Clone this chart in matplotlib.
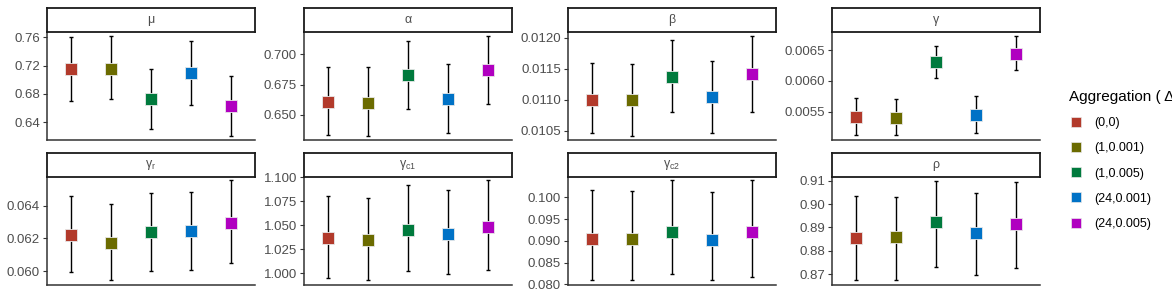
import numpy as np
import matplotlib
matplotlib.use("Agg")
import matplotlib.pyplot as plt
from matplotlib.lines import Line2D
from matplotlib.ticker import FormatStrFormatter

plt.rcParams['font.family'] = ['Liberation Sans', 'DejaVu Sans']

# =========================================================
# Data
# =========================================================
groups = ["(0,0)", "(1,0.001)", "(1,0.005)", "(24,0.001)", "(24,0.005)"]
colors = ["#B23A2B", "#6B6B00", "#007A3D", "#0072C6", "#B000C0"]

params = ["μ", "α", "β", "γ",
          r"γ$_\mathregular{r}$", r"γ$_\mathregular{c1}$", r"γ$_\mathregular{c2}$", "ρ"]

mu_est = [0.715, 0.716, 0.673, 0.710, 0.663]
mu_lo = [0.670, 0.673, 0.631, 0.664, 0.621]
mu_hi = [0.761, 0.762, 0.716, 0.755, 0.705]

alpha_est = [0.6605, 0.660, 0.6825, 0.6630, 0.6866]
alpha_lo = [0.6336, 0.633, 0.6547, 0.6355, 0.659]
alpha_hi = [0.689, 0.6896, 0.7104, 0.692, 0.715]

beta_est = [0.01100, 0.01100, 0.011368, 0.011052, 0.011412]
beta_lo = [0.010463, 0.010425, 0.010801, 0.010473, 0.010811]
beta_hi = [0.011598, 0.011577, 0.011968, 0.011630, 0.012027]

gamma_est = [0.005419, 0.005403, 0.006300, 0.005451, 0.006435]
gamma_lo = [0.005117, 0.005117, 0.006041, 0.005155, 0.006168]
gamma_hi = [0.005727, 0.005706, 0.006570, 0.005754, 0.006730]

gr_est = [0.06221, 0.06172, 0.06237, 0.06245, 0.06296]
gr_lo = [0.05994, 0.05945, 0.05998, 0.06008, 0.06051]
gr_hi = [0.06461, 0.06412, 0.06480, 0.06484, 0.06556]

gc1_est = [1.0369, 1.0341, 1.0445, 1.0407, 1.0478]
gc1_lo = [0.9951, 0.9927, 1.0018, 0.9986, 1.0028]
gc1_hi = [1.0808, 1.0787, 1.0920, 1.0870, 1.0968]

gc2_est = [0.09041, 0.09041, 0.09209, 0.09025, 0.09194]
gc2_lo = [0.08106, 0.08106, 0.08239, 0.08098, 0.08168]
gc2_hi = [0.10175, 0.10152, 0.10391, 0.10126, 0.10391]

rho_est = [0.88566, 0.88596, 0.89237, 0.88754, 0.89164]
rho_lo = [0.86774, 0.86774, 0.87316, 0.86957, 0.87261]
rho_hi = [0.90334, 0.90304, 0.91000, 0.90488, 0.90932]

estimates = [mu_est, alpha_est, beta_est, gamma_est, gr_est, gc1_est, gc2_est, rho_est]
lowers = [mu_lo, alpha_lo, beta_lo, gamma_lo, gr_lo, gc1_lo, gc2_lo, rho_lo]
uppers = [mu_hi, alpha_hi, beta_hi, gamma_hi, gr_hi, gc1_hi, gc2_hi, rho_hi]

# y ticks and limits per panel
yticks = [
    [0.64, 0.68, 0.72, 0.76],
    [0.650, 0.675, 0.700],
    [0.0105, 0.0110, 0.0115, 0.0120],
    [0.0055, 0.0060, 0.0065],
    [0.060, 0.062, 0.064],
    [1.000, 1.025, 1.050, 1.075, 1.100],
    [0.080, 0.085, 0.090, 0.095, 0.100],
    [0.87, 0.88, 0.89, 0.90, 0.91],
]
ylims = [
    (0.615, 0.768),
    (0.6295, 0.7183),
    (0.010355, 0.012096),
    (0.005041, 0.006797),
    (0.059143, 0.065776),
    (0.9875, 1.1006),
    (0.07984, 0.104736),
    (0.86543, 0.9117),
]
fmts = ["%.2f", "%.3f", "%.4f", "%.4f", "%.3f", "%.3f", "%.3f", "%.2f"]

# =========================================================
# Layout (pixel based)
# =========================================================
W, H = 1172, 297
fig = plt.figure(figsize=(W / 100, H / 100), dpi=100)

col_left = [47, 304, 568, 832]
ax_w = 208
row_top = [31.7, 176.7]
ax_h = 108.3
strip_h = 23.7

x = np.arange(1, 6)
for i in range(8):
    r, c = divmod(i, 4)
    left = col_left[c] / W
    bottom = (H - row_top[r] - ax_h) / H
    ax = fig.add_axes([left, bottom, ax_w / W, ax_h / H])

    est = np.array(estimates[i])
    lo = np.array(lowers[i])
    hi = np.array(uppers[i])
    ax.errorbar(x, est, yerr=[est - lo, hi - est], fmt="none", ecolor="black",
                elinewidth=1.0, capsize=1.6, capthick=1.0, zorder=2)
    for k in range(5):
        ax.plot(x[k], est[k], marker="s", markersize=8.5, color=colors[k],
                markeredgecolor="#E8E8E8", markeredgewidth=0.6, zorder=3)

    ax.set_xlim(0.4, 5.6)
    ax.set_ylim(*ylims[i])
    ax.set_yticks(yticks[i])
    ax.yaxis.set_major_formatter(FormatStrFormatter(fmts[i]))
    ax.set_xticks([])
    for s in ["top", "right"]:
        ax.spines[s].set_visible(False)
    for s in ["left", "bottom"]:
        ax.spines[s].set_linewidth(1.1)
        ax.spines[s].set_color("#333333")
    ax.tick_params(axis="y", length=3, width=0.8, color="#333333",
                   labelsize=9.5, labelcolor="#4D4D4D", pad=2)

    # strip on top
    sax = fig.add_axes([left, (H - row_top[r]) / H, ax_w / W, strip_h / H])
    sax.set_xticks([])
    sax.set_yticks([])
    for s in sax.spines.values():
        s.set_linewidth(1.3)
        s.set_color("#1A1A1A")
    sax.text(0.5, 0.5, params[i], ha="center", va="center", fontsize=9,
             color="#4D4D4D", transform=sax.transAxes)

# =========================================================
# Legend
# =========================================================
handles = [Line2D([0], [0], marker="s", linestyle="none", markersize=7,
                  color=colors[k], markeredgecolor="#E8E8E8", markeredgewidth=0.5)
           for k in range(5)]
leg = fig.legend(handles, groups, loc="upper left",
                 bbox_to_anchor=(1058 / W, 1 - 79 / H),
                 title="Aggregation ( \u0394t, \u03b5 )", title_fontsize=11,
                 fontsize=9, frameon=False, handlelength=1.0,
                 handletextpad=1.0, labelspacing=1.05, alignment="left")

plt.savefig("out.png", dpi=100)
